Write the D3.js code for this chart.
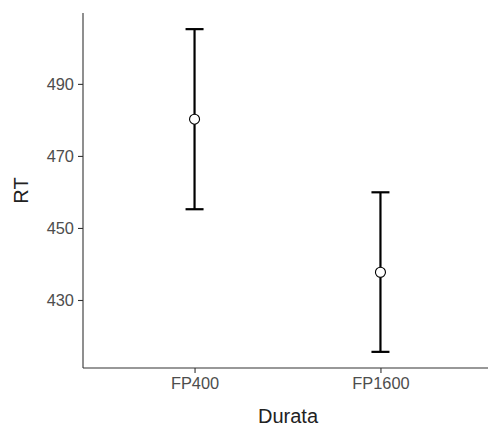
<!DOCTYPE html>
<html>
<head>
<meta charset="utf-8">
<script src="https://cdn.jsdelivr.net/npm/d3@7"></script>
<style>
  html, body { margin: 0; padding: 0; background: #fff; }
  svg { display: block; font-family: "Liberation Sans", Arial, sans-serif; }
</style>
</head>
<body>
<svg id="chart" width="488" height="429"></svg>
<script>
// Mean reaction time per duration condition with error bounds
const categories = ["FP400", "FP1600"];
const means = [480.2, 437.7];
const lower = [455.2, 415.6];
const upper = [505.2, 459.9];
const yTicks = [430, 450, 470, 490];

const svg = d3.select("#chart");
const margin = { left: 83, top: 13, right: -4, bottom: 61 };
const W = 488, H = 429;
const x0 = margin.left, x1 = W - margin.right;
const y0 = H - margin.bottom, y1 = margin.top;

const yMin = d3.min(lower), yMax = d3.max(upper);
const pad = (yMax - yMin) * 0.05;
const y = d3.scaleLinear().domain([yMin - pad, yMax + pad]).range([y0, y1]);

// discrete positions 1..n, expanded by 0.6 on each side
const xPos = d3.scaleLinear().domain([0.4, categories.length + 0.6]).range([x0, x1]);
const data = categories.map((c, i) => ({ c, i: i + 1, m: means[i], lo: lower[i], hi: upper[i] }));

// axes
const yAxis = d3.axisLeft(y).tickValues(yTicks).tickSize(5).tickPadding(4);
const gy = svg.append("g").attr("transform", `translate(${x0},0)`).call(yAxis);
gy.select(".domain").attr("d", `M0,${y0}V${y1}`);

const xAxis = d3.axisBottom(xPos).tickValues(data.map(d => d.i))
  .tickFormat((d) => categories[d - 1]).tickSize(5).tickPadding(4);
const gx = svg.append("g").attr("transform", `translate(0,${y0})`).call(xAxis);
gx.select(".domain").attr("d", `M${x0},0H${x1}`);

[gx, gy].forEach(g => {
  g.select(".domain").attr("stroke", "#333").attr("stroke-width", 1.1);
  g.selectAll(".tick line").attr("stroke", "#333").attr("stroke-width", 1.1);
  g.selectAll(".tick text").attr("fill", "#4d4d4d").attr("font-size", 16.4)
    .attr("font-family", "Liberation Sans, Arial, sans-serif");
});

// axis titles
svg.append("text").attr("x", 288).attr("y", 423)
  .attr("text-anchor", "middle").attr("font-size", 20).attr("fill", "#222")
  .text("Durata");
svg.append("text").attr("transform", `translate(28,${(y0 + y1) / 2}) rotate(-90)`)
  .attr("text-anchor", "middle").attr("font-size", 20).attr("fill", "#222")
  .text("RT");

// error bars
const capW = 9;
const eb = svg.append("g").attr("stroke", "#000").attr("stroke-width", 2.2).attr("fill", "none");
eb.selectAll(".stem").data(data).join("line")
  .attr("x1", d => xPos(d.i)).attr("x2", d => xPos(d.i))
  .attr("y1", d => y(d.lo)).attr("y2", d => y(d.hi));
eb.selectAll(".capTop").data(data).join("line")
  .attr("x1", d => xPos(d.i) - capW).attr("x2", d => xPos(d.i) + capW)
  .attr("y1", d => y(d.hi)).attr("y2", d => y(d.hi));
eb.selectAll(".capBot").data(data).join("line")
  .attr("x1", d => xPos(d.i) - capW).attr("x2", d => xPos(d.i) + capW)
  .attr("y1", d => y(d.lo)).attr("y2", d => y(d.lo));

// mean points
svg.append("g").selectAll("circle").data(data).join("circle")
  .attr("cx", d => xPos(d.i)).attr("cy", d => y(d.m)).attr("r", 5)
  .attr("fill", "#fff").attr("stroke", "#000").attr("stroke-width", 1.1);
</script>
</body>
</html>
